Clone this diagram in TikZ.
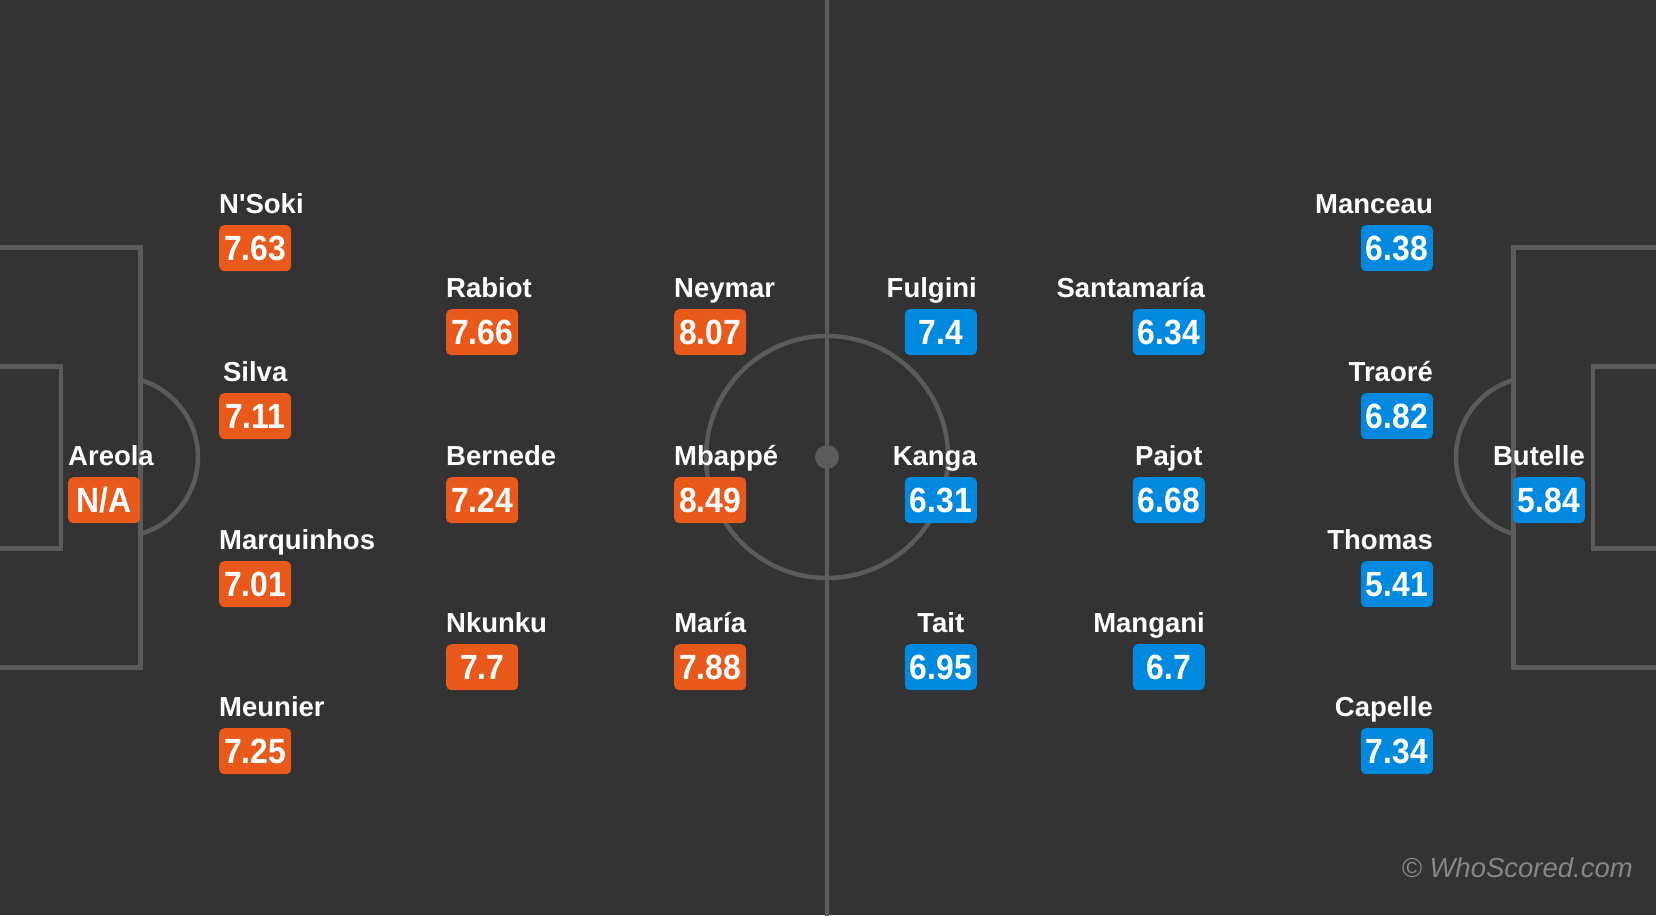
\documentclass[tikz,border=0pt]{standalone}
\usepackage{fontspec}
\setmainfont{Liberation Sans}
\newfontfamily\ratefont[FakeStretch=0.91]{Liberation Sans}
\usetikzlibrary{positioning}

\definecolor{pitchbg}{HTML}{333333}
\definecolor{pitchline}{HTML}{5B5B5B}
\definecolor{homeorange}{HTML}{E9591B}
\definecolor{awayblue}{HTML}{0089DF}
\definecolor{markgrey}{HTML}{878787}

% names narrower than a badge sit centred over it
\newsavebox\namebox
\newcommand\pname[1]{\sbox\namebox{#1}%
  \ifdim\wd\namebox<72pt\makebox[72pt][c]{#1}\else\usebox\namebox\fi}

\tikzset{
  pitch/.style={draw=pitchline, line width=4.5pt},
  rating/.style={rounded corners=5pt, inner sep=0pt, minimum width=72pt,
    minimum height=46pt, text height=25pt, text depth=0pt, text=white,
    font=\ratefont\bfseries\fontsize{35}{40}\selectfont},
  homerate/.style={rating, fill=homeorange, anchor=north west},
  awayrate/.style={rating, fill=awayblue, anchor=north east},
  pnamebase/.style={text=white, inner sep=0pt,
    font=\bfseries\fontsize{27.5}{30}\selectfont},
  homename/.style={pnamebase, anchor=base west},
  awayname/.style={pnamebase, anchor=base east},
}

\begin{document}
\begin{tikzpicture}[x=1pt, y=-1pt]

% Pitch
\fill[pitchbg] (0,0) rectangle (1656,915);
\useasboundingbox (0,0) rectangle (1656,915);
\draw[pitch] (827,-10) -- (827,925);
\draw[pitch] (827,457) circle (121pt);
\fill[pitchline] (827,457) circle (12pt);
\draw[pitch] (-10,247.5) -| (140.5,667.5) -- (-10,667.5);
\draw[pitch] (-10,366.5) -| (61,548.5) -- (-10,548.5);
\draw[pitch] (1666,247.5) -| (1513.5,667.5) -- (1666,667.5);
\draw[pitch] (1666,366.5) -| (1593,548.5) -- (1666,548.5);
\draw[pitch] (117.7,457) ++(-73.5:80.3pt) arc[start angle=-73.5, end angle=73.5, radius=80.3pt];
\draw[pitch] (1536.3,457) ++(106.5:80.3pt) arc[start angle=106.5, end angle=253.5, radius=80.3pt];

% Home side
\node[homerate] (areola) at (68,477) {N/A};
\node[homename] (areola-name) at ([yshift=12pt]areola.north west) {\pname{Areola}};
\node[homerate] (nsoki) at (219,225) {7.63};
\node[homename] (nsoki-name) at ([yshift=12pt]nsoki.north west) {\pname{N\textquotesingle Soki}};
\node[homerate] (silva) at (219,393) {7.11};
\node[homename] (silva-name) at ([yshift=12pt]silva.north west) {\pname{Silva}};
\node[homerate] (marquinhos) at (219,561) {7.01};
\node[homename] (marquinhos-name) at ([yshift=12pt]marquinhos.north west) {\pname{Marquinhos}};
\node[homerate] (meunier) at (219,728) {7.25};
\node[homename] (meunier-name) at ([yshift=12pt]meunier.north west) {\pname{Meunier}};
\node[homerate] (rabiot) at (446,309) {7.66};
\node[homename] (rabiot-name) at ([yshift=12pt]rabiot.north west) {\pname{Rabiot}};
\node[homerate] (bernede) at (446,477) {7.24};
\node[homename] (bernede-name) at ([yshift=12pt]bernede.north west) {\pname{Bernede}};
\node[homerate] (nkunku) at (446,644) {7.7};
\node[homename] (nkunku-name) at ([yshift=12pt]nkunku.north west) {\pname{Nkunku}};
\node[homerate] (neymar) at (674,309) {8.07};
\node[homename] (neymar-name) at ([yshift=12pt]neymar.north west) {\pname{Neymar}};
\node[homerate] (mbappe) at (674,477) {8.49};
\node[homename] (mbappe-name) at ([yshift=12pt]mbappe.north west) {\pname{Mbappé}};
\node[homerate] (maria) at (674,644) {7.88};
\node[homename] (maria-name) at ([yshift=12pt]maria.north west) {\pname{María}};

% Away side
\node[awayrate] (fulgini) at (977,309) {7.4};
\node[awayname] (fulgini-name) at ([yshift=12pt]fulgini.north east) {\pname{Fulgini}};
\node[awayrate] (kanga) at (977,477) {6.31};
\node[awayname] (kanga-name) at ([yshift=12pt]kanga.north east) {\pname{Kanga}};
\node[awayrate] (tait) at (977,644) {6.95};
\node[awayname] (tait-name) at ([yshift=12pt]tait.north east) {\pname{Tait}};
\node[awayrate] (santamaria) at (1205,309) {6.34};
\node[awayname] (santamaria-name) at ([yshift=12pt]santamaria.north east) {\pname{Santamaría}};
\node[awayrate] (pajot) at (1205,477) {6.68};
\node[awayname] (pajot-name) at ([yshift=12pt]pajot.north east) {\pname{Pajot}};
\node[awayrate] (mangani) at (1205,644) {6.7};
\node[awayname] (mangani-name) at ([yshift=12pt]mangani.north east) {\pname{Mangani}};
\node[awayrate] (manceau) at (1433,225) {6.38};
\node[awayname] (manceau-name) at ([yshift=12pt]manceau.north east) {\pname{Manceau}};
\node[awayrate] (traore) at (1433,393) {6.82};
\node[awayname] (traore-name) at ([yshift=12pt]traore.north east) {\pname{Traoré}};
\node[awayrate] (thomas) at (1433,561) {5.41};
\node[awayname] (thomas-name) at ([yshift=12pt]thomas.north east) {\pname{Thomas}};
\node[awayrate] (capelle) at (1433,728) {7.34};
\node[awayname] (capelle-name) at ([yshift=12pt]capelle.north east) {\pname{Capelle}};
\node[awayrate] (butelle) at (1585,477) {5.84};
\node[awayname] (butelle-name) at ([yshift=12pt]butelle.north east) {\pname{Butelle}};

% Credit
\node[anchor=base east, inner sep=0pt, text=markgrey, font=\itshape\fontsize{27.5}{30}\selectfont] (credit) at (1633,877) {© WhoScored.com};
\end{tikzpicture}
\end{document}
